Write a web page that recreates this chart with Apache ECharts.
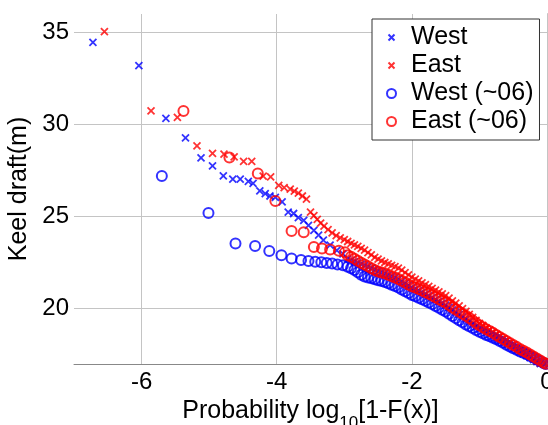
<!DOCTYPE html>
<html>
<head>
<meta charset="utf-8">
<script src="https://cdn.jsdelivr.net/npm/echarts@6/dist/echarts.min.js"></script>
<style>
html, body { margin: 0; padding: 0; background: #fff; }
#chart { width: 548px; height: 425px; }
</style>
</head>
<body>
<div id="chart"></div>
<script>
// 刻度
const xTicks = [-6, -4, -2, 0]
const yTicks = [20, 25, 30, 35]

// 稀疏部分 (x < -3)
const westCross = [
  [-6.72, 34.46], [-6.04, 33.2], [-5.64, 30.33], [-5.35, 29.28], [-5.12, 28.19], [-4.95, 27.76],
  [-4.79, 27.21], [-4.65, 27.03], [-4.54, 27.03], [-4.42, 26.92], [-4.35, 26.8], [-4.25, 26.4],
  [-4.17, 26.25], [-4.10, 26.12], [-4.02, 26.05], [-3.92, 25.8], [-3.83, 25.25], [-3.75, 25.17],
  [-3.68, 24.95], [-3.60, 24.8], [-3.53, 24.53], [-3.45, 24.26], [-3.38, 23.99], [-3.31, 23.72],
  [-3.21, 23.45], [-3.11, 23.17], [-3.02, 22.98]
]
const eastCross = [
  [-6.55, 35.04], [-5.86, 30.74], [-5.47, 30.39], [-5.18, 28.84], [-4.95, 28.43], [-4.78, 28.39],
  [-4.63, 28.24], [-4.49, 28.0], [-4.37, 28.0], [-4.20, 27.2], [-4.09, 27.16], [-3.97, 26.7],
  [-3.89, 26.58], [-3.80, 26.49], [-3.74, 26.38], [-3.68, 26.28], [-3.62, 26.12], [-3.56, 25.95],
  [-3.50, 25.25], [-3.45, 25.05], [-3.40, 24.85], [-3.35, 24.65], [-3.30, 24.48], [-3.24, 24.3],
  [-3.18, 24.12], [-3.12, 23.97], [-3.06, 23.85], [-3.00, 23.75]
]
const westCircle = [
  [-5.70, 27.21], [-5.01, 25.2], [-4.61, 23.54], [-4.32, 23.41], [-4.11, 23.14], [-3.93, 22.9],
  [-3.78, 22.73], [-3.64, 22.64], [-3.53, 22.59], [-3.43, 22.55], [-3.34, 22.52], [-3.26, 22.48],
  [-3.18, 22.45], [-3.10, 22.4], [-3.02, 22.36]
]
const eastCircle = [
  [-5.38, 30.74], [-4.70, 28.21], [-4.28, 27.34], [-4.02, 25.85], [-3.78, 24.22], [-3.60, 24.15],
  [-3.45, 23.35], [-3.33, 23.27], [-3.21, 23.21], [-3.08, 23.15], [-2.99, 23.06]
]

// 密集部分 (x >= -3)
const bandX = [
  -2.95, -2.90, -2.85, -2.80, -2.75, -2.70, -2.65, -2.60, -2.55, -2.50,
  -2.45, -2.40, -2.35, -2.30, -2.25, -2.20, -2.15, -2.10, -2.05, -2.00,
  -1.95, -1.90, -1.85, -1.80, -1.75, -1.70, -1.65, -1.60, -1.55, -1.50,
  -1.45, -1.40, -1.35, -1.30, -1.25, -1.20, -1.15, -1.10, -1.05, -1.00,
  -0.95, -0.90, -0.85, -0.80, -0.75, -0.70, -0.65, -0.60, -0.55, -0.50,
  -0.45, -0.40, -0.35, -0.30, -0.25, -0.20, -0.15, -0.10, -0.05, -0.02
]
const westCrossBand = [
  22.70, 22.63, 22.56, 22.49, 22.42, 22.34, 22.27, 22.19, 22.12, 22.04,
  21.97, 21.90, 21.83, 21.75, 21.68, 21.60, 21.49, 21.38, 21.27, 21.15,
  21.07, 20.98, 20.89, 20.79, 20.70, 20.60, 20.50, 20.40, 20.30, 20.20,
  20.07, 19.94, 19.82, 19.69, 19.56, 19.43, 19.30, 19.16, 19.03, 18.90,
  18.80, 18.69, 18.60, 18.50, 18.40, 18.29, 18.18, 18.07, 17.96, 17.85,
  17.75, 17.65, 17.55, 17.45, 17.35, 17.24, 17.13, 17.02, 17.00, 17.00
]
const eastCrossBand = [
  23.65, 23.55, 23.47, 23.38, 23.28, 23.18, 23.05, 22.92, 22.79, 22.69,
  22.60, 22.51, 22.44, 22.36, 22.29, 22.21, 22.09, 21.96, 21.84, 21.71,
  21.61, 21.51, 21.41, 21.31, 21.21, 21.11, 21.01, 20.91, 20.81, 20.71,
  20.57, 20.43, 20.30, 20.16, 20.01, 19.86, 19.70, 19.53, 19.37, 19.21,
  19.09, 18.96, 18.85, 18.73, 18.61, 18.49, 18.37, 18.25, 18.13, 18.01,
  17.89, 17.77, 17.65, 17.53, 17.41, 17.29, 17.17, 17.05, 17.02, 17.00
]
const westCircleBand = [
  22.28, 22.20, 22.10, 21.98, 21.84, 21.75, 21.70, 21.65, 21.60, 21.55,
  21.50, 21.45, 21.38, 21.30, 21.23, 21.15, 21.05, 20.95, 20.85, 20.75,
  20.68, 20.60, 20.52, 20.43, 20.34, 20.25, 20.15, 20.05, 19.95, 19.85,
  19.73, 19.60, 19.49, 19.37, 19.26, 19.15, 19.05, 18.95, 18.85, 18.75,
  18.67, 18.58, 18.51, 18.43, 18.34, 18.25, 18.15, 18.05, 17.95, 17.85,
  17.77, 17.68, 17.61, 17.53, 17.44, 17.35, 17.25, 17.15, 17.05, 17.00
]
const eastCircleBand = [
  22.90, 22.82, 22.72, 22.60, 22.50, 22.40, 22.30, 22.20, 22.10, 22.02,
  21.97, 21.92, 21.85, 21.77, 21.70, 21.62, 21.52, 21.42, 21.32, 21.22,
  21.15, 21.07, 20.99, 20.90, 20.81, 20.72, 20.62, 20.52, 20.42, 20.32,
  20.20, 20.07, 19.96, 19.84, 19.73, 19.62, 19.50, 19.36, 19.23, 19.10,
  18.99, 18.88, 18.79, 18.69, 18.58, 18.47, 18.36, 18.25, 18.14, 18.03,
  17.93, 17.82, 17.72, 17.62, 17.52, 17.41, 17.30, 17.19, 17.08, 17.01
]

const fontFamily = 'Liberation Sans, Arial, sans-serif'
const crossPath = 'path://M0,0L10,10M10,0L0,10'
const crossIcon = 'path://M0,0M2,2L10,10M10,2L2,10M12,12'

// 稀疏点 + 密集带
const joinBand = (sparse, band) => sparse.concat(bandX.map((x, i) => [x, band[i]]))

const makeSeries = (name, data, symbol, size, color, lineWidth) => ({
  name,
  type: 'scatter',
  data,
  symbol,
  symbolSize: size,
  itemStyle: { color: 'transparent', borderColor: color, borderWidth: lineWidth },
  emphasis: { disabled: true },
  z: 2
})

const chart = echarts.init(document.getElementById('chart'))

chart.setOption({
  animation: false,
  textStyle: { fontFamily },
  grid: { left: 74, top: 14, width: 473, height: 350, outerBoundsMode: 'none', containLabel: false },
  legend: {
    orient: 'vertical',
    left: 372,
    top: 19,
    padding: [6, 6, 6, 14],
    itemWidth: 29,
    itemHeight: 9,
    itemGap: 3,
    backgroundColor: '#fff',
    borderColor: '#333',
    borderWidth: 1,
    textStyle: { fontSize: 25, color: '#000', lineHeight: 25, fontFamily },
    data: [
      { name: 'West', icon: crossIcon },
      { name: 'East', icon: crossIcon },
      { name: 'West (~06)', icon: 'circle' },
      { name: 'East (~06)', icon: 'circle' }
    ]
  },
  xAxis: {
    type: 'value',
    min: -7,
    max: 0,
    name: '{base|Probability log}{sub|10}{base|[1-F(x)]}',
    nameLocation: 'middle',
    nameGap: 28,
    nameTextStyle: {
      color: '#000',
      rich: {
        base: { fontSize: 25, fontFamily, color: '#000', verticalAlign: 'top' },
        sub: { fontSize: 17, fontFamily, color: '#000', verticalAlign: 'top', padding: [16, 0, 0, 0] }
      }
    },
    axisLine: { lineStyle: { color: '#888' } },
    axisTick: { show: true, inside: true, length: 4, customValues: xTicks, lineStyle: { color: '#888' } },
    axisLabel: { customValues: xTicks, fontSize: 24, color: '#000', margin: 6 },
    splitLine: { show: false }
  },
  yAxis: {
    type: 'value',
    min: 17,
    max: 36,
    name: 'Keel draft(m)',
    nameLocation: 'middle',
    nameGap: 42,
    nameTextStyle: { fontSize: 25, color: '#000' },
    axisLine: { show: true, lineStyle: { color: '#888' } },
    axisTick: { show: true, inside: true, length: 4, customValues: yTicks, lineStyle: { color: '#888' } },
    axisLabel: { customValues: yTicks, fontSize: 24, color: '#000', margin: 5 },
    splitLine: { show: false }
  },
  series: [
    // 网格线
    {
      type: 'scatter',
      data: [],
      silent: true,
      markLine: {
        silent: true,
        symbol: 'none',
        z: 1,
        label: { show: false },
        lineStyle: { color: '#c4c4c4', type: 'solid', width: 1 },
        data: [...xTicks.map(v => ({ xAxis: v })), ...yTicks.map(v => ({ yAxis: v }))]
      }
    },
    makeSeries('West', joinBand(westCross, westCrossBand), crossPath, 7, '#0000ff', 1.8),
    makeSeries('East', joinBand(eastCross, eastCrossBand), crossPath, 7, '#ff0000', 1.8),
    makeSeries('West (~06)', joinBand(westCircle, westCircleBand), 'circle', 10, '#0000ff', 2),
    makeSeries('East (~06)', joinBand(eastCircle, eastCircleBand), 'circle', 10, '#ff0000', 2)
  ]
})
</script>
</body>
</html>
